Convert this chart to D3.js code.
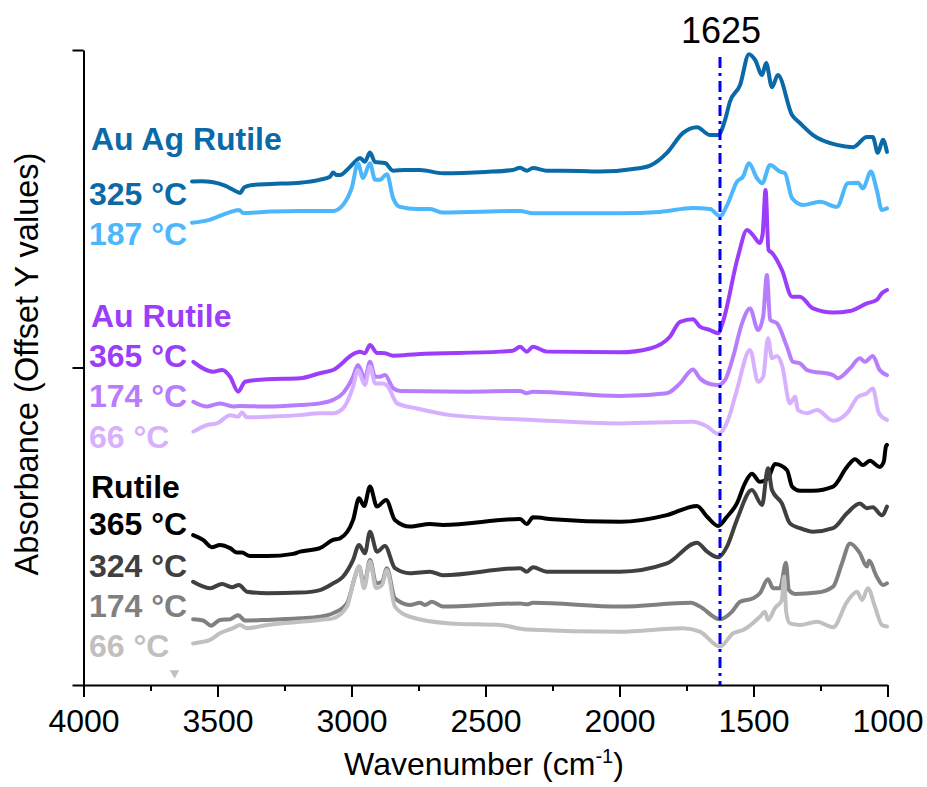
<!DOCTYPE html>
<html>
<head>
<meta charset="utf-8">
<script src="https://cdn.jsdelivr.net/npm/d3@7"></script>
<style>
  html, body { margin: 0; padding: 0; background: #fff; }
  svg { display: block; font-family: "Liberation Sans", Arial, Helvetica, sans-serif; }
</style>
</head>
<body>
<svg id="chart" width="927" height="787"></svg>
<script>
// ---- Data: DRIFTS spectra, [wavenumber (cm-1), absorbance incl. vertical offset] ----
const auAgRutile325 = [
  [3595,1.586],[3560,1.587],[3520,1.584],[3470,1.572],[3440,1.559],[3416,1.550],[3400,1.568],
  [3370,1.575],[3300,1.578],[3192,1.582],[3120,1.591],[3080,1.601],[3069,1.614],[3055,1.606],
  [3043,1.606],[3010,1.628],[2987,1.648],[2968,1.660],[2950,1.648],[2931,1.677],[2912,1.647],
  [2875,1.644],[2845,1.620],[2800,1.622],[2744,1.622],[2659,1.612],[2500,1.616],[2398,1.622],
  [2371,1.629],[2346,1.620],[2323,1.628],[2271,1.620],[2150,1.619],[2073,1.617],[1950,1.625],
  [1886,1.636],[1823,1.676],[1763,1.739],[1711,1.757],[1662,1.732],[1632,1.732],[1606,1.780],
  [1588,1.837],[1550,1.890],[1517,1.987],[1494,1.969],[1468,1.921],[1453,1.959],[1431,1.883],
  [1409,1.921],[1356,1.795],[1327,1.770],[1278,1.732],[1189,1.701],[1129,1.694],[1077,1.726],
  [1055,1.726],[1036,1.676],[1017,1.717],[1002,1.679]
];
const auAgRutile187 = [
  [3595,1.456],[3530,1.465],[3461,1.487],[3420,1.496],[3405,1.487],[3300,1.491],[3192,1.493],
  [3069,1.493],[3032,1.512],[2998,1.569],[2976,1.643],[2957,1.597],[2931,1.643],[2912,1.591],
  [2894,1.591],[2868,1.609],[2845,1.534],[2819,1.506],[2756,1.499],[2707,1.499],[2659,1.488],
  [2371,1.493],[2323,1.486],[1998,1.486],[1850,1.490],[1726,1.502],[1662,1.499],[1625,1.477],
  [1595,1.518],[1562,1.585],[1539,1.601],[1517,1.643],[1487,1.596],[1468,1.580],[1438,1.638],
  [1401,1.617],[1383,1.612],[1356,1.533],[1315,1.512],[1252,1.522],[1189,1.506],[1148,1.580],
  [1110,1.582],[1092,1.564],[1062,1.617],[1040,1.559],[1021,1.496],[1002,1.501]
];
const auRutile365 = [
  [3590,1.018],[3517,0.987],[3483,0.992],[3453,0.971],[3423,0.924],[3397,0.955],[3315,0.963],
  [3192,0.966],[3118,0.982],[3069,0.992],[2987,1.045],[2968,1.050],[2950,1.045],[2931,1.071],
  [2905,1.046],[2875,1.045],[2845,1.037],[2756,1.042],[2446,1.050],[2398,1.053],[2371,1.065],
  [2346,1.050],[2323,1.065],[2271,1.050],[1998,1.048],[1886,1.060],[1812,1.097],[1774,1.144],
  [1726,1.152],[1700,1.129],[1662,1.118],[1632,1.108],[1614,1.144],[1558,1.349],[1524,1.433],
  [1502,1.417],[1476,1.392],[1466,1.420],[1455,1.559],[1444,1.370],[1431,1.361],[1394,1.307],
  [1356,1.223],[1327,1.223],[1278,1.186],[1203,1.173],[1140,1.178],[1077,1.202],[1040,1.213],
  [1021,1.234],[1002,1.244]
];
const auRutile174 = [
  [3590,0.892],[3539,0.877],[3491,0.887],[3442,0.877],[3416,0.879],[3315,0.877],[3192,0.882],
  [3118,0.887],[3069,0.898],[3032,0.919],[2994,0.971],[2976,1.008],[2950,0.966],[2931,1.018],
  [2912,0.971],[2894,0.971],[2875,0.976],[2845,0.935],[2819,0.926],[2569,0.924],[2371,0.926],
  [2346,0.919],[2323,0.924],[1998,0.910],[1823,0.919],[1774,0.950],[1726,0.994],[1700,0.966],
  [1662,0.948],[1632,0.945],[1606,0.961],[1576,1.034],[1543,1.139],[1513,1.186],[1483,1.118],
  [1464,1.160],[1450,1.291],[1438,1.150],[1412,1.139],[1375,1.065],[1353,1.018],[1327,1.013],
  [1300,0.992],[1203,0.976],[1185,0.966],[1140,0.997],[1103,1.029],[1084,1.018],[1055,1.036],
  [1029,0.992],[1002,0.976]
];
const auRutile66 = [
  [3590,0.798],[3539,0.819],[3502,0.824],[3453,0.850],[3423,0.845],[3409,0.858],[3390,0.843],
  [3315,0.845],[3192,0.850],[3118,0.856],[3069,0.856],[3032,0.871],[2994,0.940],[2976,0.992],
  [2950,0.945],[2931,1.003],[2912,0.950],[2882,0.950],[2864,0.940],[2830,0.887],[2756,0.871],
  [2632,0.850],[2323,0.835],[1998,0.824],[1726,0.829],[1673,0.814],[1632,0.791],[1595,0.835],
  [1562,0.929],[1513,1.055],[1483,0.955],[1464,0.971],[1446,1.092],[1431,1.029],[1412,1.036],
  [1394,1.008],[1364,0.887],[1345,0.908],[1334,0.866],[1300,0.856],[1263,0.866],[1203,0.832],
  [1151,0.856],[1110,0.908],[1077,0.919],[1055,0.934],[1032,0.856],[1002,0.835]
];
const rutile365 = [
  [3591,0.472],[3554,0.457],[3521,0.434],[3491,0.441],[3453,0.431],[3427,0.417],[3409,0.417],
  [3379,0.406],[3315,0.406],[3218,0.413],[3192,0.420],[3118,0.431],[3069,0.457],[3043,0.462],
  [2994,0.520],[2972,0.588],[2953,0.564],[2931,0.625],[2905,0.562],[2871,0.583],[2838,0.520],
  [2782,0.499],[2707,0.507],[2659,0.504],[2371,0.523],[2346,0.507],[2323,0.528],[2248,0.522],
  [1998,0.514],[1823,0.535],[1711,0.564],[1673,0.530],[1632,0.501],[1599,0.530],[1562,0.572],
  [1532,0.635],[1506,0.665],[1476,0.640],[1446,0.651],[1420,0.696],[1375,0.677],[1356,0.625],
  [1327,0.612],[1278,0.612],[1203,0.625],[1151,0.687],[1121,0.711],[1092,0.693],[1066,0.706],
  [1029,0.687],[1014,0.703],[1006,0.751],[1002,0.756]
];
const rutile324 = [
  [3591,0.325],[3528,0.305],[3483,0.318],[3446,0.308],[3420,0.315],[3390,0.294],[3315,0.289],
  [3192,0.291],[3118,0.299],[3069,0.320],[3032,0.341],[2994,0.394],[2972,0.441],[2950,0.415],
  [2931,0.483],[2905,0.420],[2875,0.438],[2838,0.368],[2782,0.352],[2707,0.357],[2659,0.346],
  [2371,0.368],[2346,0.357],[2323,0.371],[2271,0.357],[1998,0.357],[1823,0.383],[1711,0.448],
  [1673,0.420],[1632,0.402],[1599,0.436],[1562,0.520],[1506,0.614],[1468,0.567],[1446,0.683],
  [1431,0.614],[1394,0.572],[1364,0.509],[1327,0.494],[1278,0.483],[1203,0.494],[1151,0.541],
  [1103,0.572],[1077,0.557],[1055,0.560],[1021,0.535],[1002,0.562]
];
const rutile174 = [
  [3591,0.207],[3554,0.203],[3524,0.187],[3491,0.205],[3453,0.207],[3423,0.220],[3397,0.203],
  [3315,0.205],[3192,0.210],[3118,0.215],[3069,0.226],[3017,0.257],[2987,0.341],[2972,0.373],
  [2953,0.315],[2931,0.394],[2908,0.320],[2886,0.325],[2868,0.368],[2838,0.273],[2782,0.252],
  [2744,0.259],[2726,0.252],[2700,0.262],[2659,0.247],[2371,0.257],[2346,0.254],[2323,0.259],
  [1998,0.247],[1733,0.259],[1700,0.247],[1625,0.207],[1580,0.231],[1550,0.262],[1502,0.273],
  [1476,0.289],[1446,0.333],[1427,0.305],[1401,0.305],[1379,0.385],[1368,0.299],[1345,0.287],
  [1263,0.291],[1203,0.310],[1170,0.383],[1140,0.446],[1103,0.415],[1077,0.373],[1069,0.391],
  [1040,0.341],[1017,0.315],[1002,0.320]
];
const rutile66 = [
  [3591,0.131],[3554,0.136],[3528,0.142],[3491,0.163],[3442,0.179],[3416,0.189],[3390,0.179],
  [3315,0.189],[3192,0.199],[3118,0.205],[3069,0.210],[3017,0.247],[2994,0.320],[2972,0.373],
  [2953,0.305],[2931,0.388],[2908,0.305],[2886,0.315],[2868,0.362],[2838,0.247],[2782,0.215],
  [2632,0.194],[2446,0.189],[2346,0.175],[1998,0.168],[1763,0.179],[1700,0.168],[1625,0.121],
  [1576,0.163],[1539,0.173],[1476,0.215],[1457,0.231],[1446,0.205],[1420,0.242],[1394,0.268],
  [1386,0.341],[1378,0.230],[1364,0.194],[1327,0.189],[1263,0.199],[1203,0.182],[1151,0.262],
  [1114,0.294],[1095,0.268],[1073,0.305],[1047,0.247],[1021,0.189],[1002,0.184]
];

// Series order (top to bottom) and their colours
const seriesData   = [auAgRutile325, auAgRutile187, auRutile365, auRutile174, auRutile66,
                      rutile365, rutile324, rutile174, rutile66];
const seriesColors = ["#0a69a7", "#4cb7fb", "#9c3ef9", "#b77dfd", "#d8b1fe",
                      "#000000", "#404040", "#808080", "#c0c0c0"];

// Sample labels (group title, then temperatures)
const groupNames  = ["Au Ag Rutile", "Au Rutile", "Rutile"];
const groupColors = ["#0a69a7", "#9c3ef9", "#000000"];
const tempLabels  = ["325 °C", "187 °C", "365 °C", "174 °C", "66 °C", "365 °C", "324 °C", "174 °C", "66 °C"];

// Axes
const xMajorTicks = [4000, 3500, 3000, 2500, 2000, 1500, 1000];
const xMinorTicks = [3750, 3250, 2750, 2250, 1750, 1250];
const yTicks = [0, 1, 2];
const markerLine = 1625;          // highlighted band
const arrowMark = [3660, 0.038];  // small marker near the baseline

// ---- Drawing ----
const svg = d3.select("#chart");
const x = d3.scaleLinear().domain([4000, 1000]).range([83.5, 887.5]);
const y = d3.scaleLinear().domain([0, 2]).range([685, 50]);

// spectra
const line = d3.line()
  .x(d => x(d[0]))
  .y(d => y(d[1]))
  .curve(d3.curveMonotoneX);

svg.append("g")
  .selectAll("path")
  .data(seriesData)
  .join("path")
  .attr("d", line)
  .attr("fill", "none")
  .attr("stroke", (d, i) => seriesColors[i])
  .attr("stroke-width", 4)
  .attr("stroke-linejoin", "round")
  .attr("stroke-linecap", "round");

// 1625 cm-1 reference line
svg.append("line")
  .attr("x1", x(markerLine)).attr("x2", x(markerLine))
  .attr("y1", 57).attr("y2", y(0))
  .attr("stroke", "#0000ff")
  .attr("stroke-width", 3)
  .attr("stroke-dasharray", "11,5,3,5");

svg.append("text")
  .attr("x", x(markerLine) + 1)
  .attr("y", 43)
  .attr("text-anchor", "middle")
  .attr("font-size", 36)
  .attr("fill", "#000")
  .text(markerLine);

// small marker triangle
svg.append("path")
  .attr("d", d3.symbol().type(d3.symbolTriangle).size(40))
  .attr("transform", `translate(${x(arrowMark[0])},${y(arrowMark[1])}) rotate(180)`)
  .attr("fill", "#c0c0c0");

// x axis
const xAxis = svg.append("g")
  .attr("transform", `translate(0,${y(0)})`)
  .call(d3.axisBottom(x).tickValues(xMajorTicks).tickSize(12).tickSizeOuter(0)
        .tickPadding(12).tickFormat(d3.format("d")));
svg.append("g")
  .attr("transform", `translate(0,${y(0)})`)
  .call(d3.axisBottom(x).tickValues(xMinorTicks).tickSize(6).tickSizeOuter(0).tickFormat(""))
  .select(".domain").remove();

// y axis (no labels)
const yAxis = svg.append("g")
  .attr("transform", `translate(${x(4000)},0)`)
  .call(d3.axisLeft(y).tickValues(yTicks).tickSize(11).tickSizeOuter(0).tickFormat(""));

svg.selectAll(".domain, .tick line")
  .attr("stroke", "#000")
  .attr("stroke-width", 2);
xAxis.selectAll(".tick text")
  .attr("font-size", 32)
  .attr("font-family", "Liberation Sans, Arial, sans-serif")
  .attr("fill", "#000");

// axis titles
const xTitle = svg.append("text")
  .attr("x", 484)
  .attr("y", 775)
  .attr("text-anchor", "middle")
  .attr("font-size", 32)
  .attr("fill", "#000");
xTitle.append("tspan").text("Wavenumber (cm");
xTitle.append("tspan").attr("font-size", 20).attr("dy", -12).text("-1");
xTitle.append("tspan").attr("dy", 12).text(")");

svg.append("text")
  .attr("transform", "translate(38,364) rotate(-90)")
  .attr("text-anchor", "middle")
  .attr("font-size", 32.5)
  .attr("fill", "#000")
  .text("Absorbance (Offset Y values)");

// sample labels
const groupBaselines = [150, 327, 498];
const tempBaselines  = [205, 245, 367, 407, 448, 535, 577, 617, 657];

svg.append("g")
  .selectAll("text")
  .data(groupNames)
  .join("text")
  .attr("x", 91)
  .attr("y", (d, i) => groupBaselines[i])
  .attr("font-size", 32)
  .attr("font-weight", "bold")
  .attr("fill", (d, i) => groupColors[i])
  .text(d => d);

svg.append("g")
  .selectAll("text")
  .data(tempLabels)
  .join("text")
  .attr("x", 89)
  .attr("y", (d, i) => tempBaselines[i])
  .attr("font-size", 32)
  .attr("font-weight", "bold")
  .attr("fill", (d, i) => seriesColors[i])
  .text(d => d);
</script>
</body>
</html>
